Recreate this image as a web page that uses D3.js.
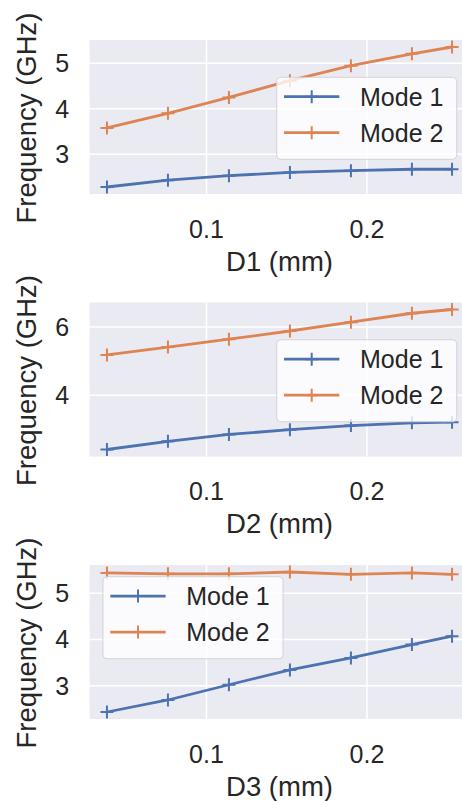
<!DOCTYPE html>
<html>
<head>
<meta charset="utf-8">
<script src="https://cdn.jsdelivr.net/npm/d3@7"></script>
<style>
  body { margin: 0; background: #fff; }
  svg { display: block; font-family: "Liberation Sans", Arial, sans-serif; }
</style>
</head>
<body>
<svg width="462" height="801"></svg>
<script>
// values
var dValues = [0.038, 0.076, 0.114, 0.152, 0.190, 0.228, 0.253];
var d1Mode1 = [2.28, 2.43, 2.53, 2.60, 2.64, 2.67, 2.67];
var d1Mode2 = [3.58, 3.90, 4.25, 4.62, 4.95, 5.21, 5.36];
var d2Mode1 = [2.41, 2.65, 2.85, 2.99, 3.11, 3.19, 3.21];
var d2Mode2 = [5.18, 5.41, 5.64, 5.88, 6.14, 6.40, 6.51];
var d3Mode1 = [2.43, 2.69, 3.02, 3.34, 3.60, 3.89, 4.07];
var d3Mode2 = [5.44, 5.42, 5.42, 5.46, 5.41, 5.44, 5.41];
var xTicks = [0.1, 0.2];
var yTicks1 = [3, 4, 5];
var yTicks2 = [4, 6];
var yTicks3 = [3, 4, 5];
var xLabels = ["D1 (mm)", "D2 (mm)", "D3 (mm)"];
var yLabel = "Frequency (GHz)";
var seriesNames = ["Mode 1", "Mode 2"];
var colors = ["#4C72B0", "#DD8452"];

var panels = [
  { m1: d1Mode1, m2: d1Mode2, ticks: yTicks1, label: xLabels[0], top: 40, legend: "right" },
  { m1: d2Mode1, m2: d2Mode2, ticks: yTicks2, label: xLabels[1], top: 302.5, legend: "right" },
  { m1: d3Mode1, m2: d3Mode2, ticks: yTicks3, label: xLabels[2], top: 565, legend: "left" }
];

var svg = d3.select("svg"),
    left = 89.7, right = 469.3, plotH = 154,
    textColor = "#262626";

// matplotlib style 5% margins
function padded(ext) {
  var p = (ext[1] - ext[0]) * 0.05;
  return [ext[0] - p, ext[1] + p];
}

var x = d3.scaleLinear()
          .domain(padded(d3.extent(dValues)))
          .range([left, right]);

panels.forEach(function(p) {
  var top = p.top, bottom = top + plotH;
  var y = d3.scaleLinear()
            .domain(padded(d3.extent(p.m1.concat(p.m2))))
            .range([bottom, top]);

  var g = svg.append("g");

  g.append("rect")
   .attr("x", left).attr("y", top)
   .attr("width", right - left).attr("height", plotH)
   .style("fill", "#EAEAF2");

  g.selectAll(".gx").data(xTicks).enter().append("line")
   .attr("x1", function(d) { return x(d); })
   .attr("x2", function(d) { return x(d); })
   .attr("y1", top).attr("y2", bottom)
   .style("stroke", "white").style("stroke-width", 1.5);

  g.selectAll(".gy").data(p.ticks).enter().append("line")
   .attr("x1", left).attr("x2", right)
   .attr("y1", function(d) { return y(d); })
   .attr("y2", function(d) { return y(d); })
   .style("stroke", "white").style("stroke-width", 1.5);

  // tick labels
  g.selectAll(".tx").data(xTicks).enter().append("text")
   .attr("x", function(d) { return x(d); })
   .attr("y", bottom + 43.5)
   .attr("text-anchor", "middle")
   .style("font-size", "25px").style("fill", textColor)
   .text(function(d) { return d3.format(".1f")(d); });

  g.selectAll(".ty").data(p.ticks).enter().append("text")
   .attr("x", left - 20.5)
   .attr("y", function(d) { return y(d); })
   .attr("dy", "0.36em")
   .attr("text-anchor", "end")
   .style("font-size", "25px").style("fill", textColor)
   .text(function(d) { return d; });

  g.append("text")
   .attr("x", (left + right) / 2)
   .attr("y", bottom + 76.5)
   .attr("text-anchor", "middle")
   .style("font-size", "27.5px").style("fill", textColor)
   .text(p.label);

  g.append("text")
   .attr("transform", "translate(35.5," + (top + plotH / 2 + 1) + ") rotate(-90)")
   .attr("text-anchor", "middle")
   .style("font-size", "27.5px").style("fill", textColor)
   .text(yLabel);

  var line = d3.line()
               .x(function(d, i) { return x(dValues[i]); })
               .y(function(d) { return y(d); });

  [p.m1, p.m2].forEach(function(vals, k) {
    g.append("path")
     .datum(vals)
     .attr("d", line)
     .style("fill", "none")
     .style("stroke", colors[k])
     .style("stroke-width", 2.8)
     .style("stroke-linejoin", "round");

    g.selectAll(".m" + k).data(vals).enter().append("path")
     .attr("d", function(d, i) {
       var cx = x(dValues[i]), cy = y(d), s = 6.5;
       return "M" + (cx - s) + "," + cy + "H" + (cx + s) + "M" + cx + "," + (cy - s) + "V" + (cy + s);
     })
     .style("stroke", colors[k])
     .style("stroke-width", 2);
  });

  // legend
  var lw = 180, lh = 82;
  var lx = p.legend == "right" ? 276.7 : left + 13.3;
  var ly = p.legend == "right" ? top + 37.3 : top + 11.7;
  var leg = g.append("g").attr("transform", "translate(" + lx + "," + ly + ")");

  leg.append("rect")
     .attr("x", 0).attr("y", 0)
     .attr("width", lw).attr("height", lh)
     .attr("rx", 4)
     .style("fill", "white").style("fill-opacity", 0.8)
     .style("stroke", "#cccccc").style("stroke-opacity", 0.8)
     .style("stroke-width", 1);

  seriesNames.forEach(function(name, k) {
    var ry = 19.4 + k * 36;
    leg.append("line")
       .attr("x1", 7.3).attr("x2", 62.6)
       .attr("y1", ry).attr("y2", ry)
       .style("stroke", colors[k]).style("stroke-width", 2.8);
    leg.append("path")
       .attr("d", "M" + (35 - 6.5) + "," + ry + "H" + (35 + 6.5) + "M35," + (ry - 6.5) + "V" + (ry + 6.5))
       .style("stroke", colors[k]).style("stroke-width", 2);
    leg.append("text")
       .attr("x", 83.3).attr("y", ry + 9.2)
       .style("font-size", "25px").style("fill", textColor)
       .text(name);
  });
});
</script>
</body>
</html>
